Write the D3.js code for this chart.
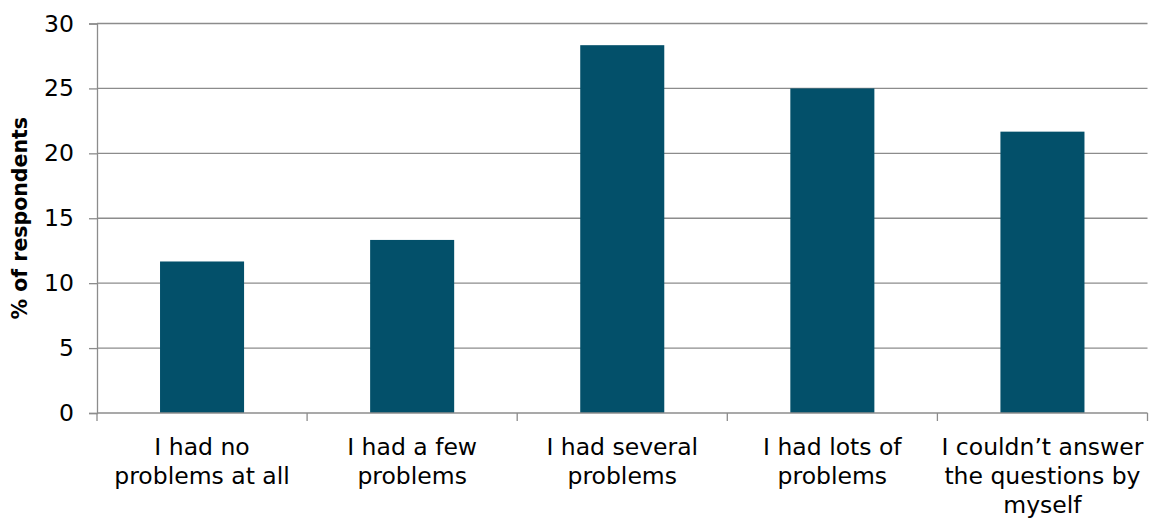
<!DOCTYPE html>
<html>
<head>
<meta charset="utf-8">
<script src="https://cdn.jsdelivr.net/npm/d3@7"></script>
<style>
  html, body { margin: 0; padding: 0; background: #fff; }
  svg { display: block; }
  text { font-family: "DejaVu Sans", sans-serif; fill: #000; }
</style>
</head>
<body>
<svg id="chart" width="1149" height="519"></svg>
<script>
// Survey answers: share of respondents per category (line breaks as printed)
const categories = [
  "I had no\nproblems at all",
  "I had a few\nproblems",
  "I had several\nproblems",
  "I had lots of\nproblems",
  "I couldn\u2019t answer\nthe questions by\nmyself"
];
const values = [11.67, 13.33, 28.33, 25, 21.67];
const yTicks = [0, 5, 10, 15, 20, 25, 30];
const yTitle = "% of respondents";

const W = 1149, H = 519;
const margin = { top: 23.5, right: 1.5, bottom: 106, left: 97 };
const svg = d3.select("#chart");

const x = d3.scaleBand()
  .domain(categories)
  .range([margin.left, W - margin.right])
  .paddingInner(0.6)
  .paddingOuter(0.3);

const y = d3.scaleLinear()
  .domain([0, 30])
  .range([H - margin.bottom, margin.top]);

const gridColor = "#8c8c8c";
const labelSize = 23.5;

// Value axis with short outside ticks
const yAxis = svg.append("g")
  .attr("transform", `translate(${margin.left},0)`)
  .call(d3.axisLeft(y).tickValues(yTicks).tickSize(8).tickPadding(15).tickFormat(d3.format("d")));
yAxis.select(".domain").attr("stroke", gridColor).attr("stroke-width", 1.3);
yAxis.selectAll(".tick line").attr("stroke", gridColor).attr("stroke-width", 1.3);
yAxis.selectAll(".tick text").attr("font-size", labelSize).attr("fill", "#000");

// Horizontal gridlines
svg.append("g")
  .selectAll("line")
  .data(yTicks.filter(d => d > 0))
  .join("line")
  .attr("x1", margin.left).attr("x2", W - margin.right)
  .attr("y1", d => y(d)).attr("y2", d => y(d))
  .attr("stroke", gridColor).attr("stroke-width", 1.3);

// Bars
svg.append("g")
  .selectAll("rect")
  .data(values)
  .join("rect")
  .attr("x", (d, i) => x(categories[i]))
  .attr("width", x.bandwidth())
  .attr("y", d => y(d))
  .attr("height", d => y(0) - y(d))
  .attr("fill", "#03506a");

// Category axis: baseline and ticks at band boundaries
const step = x.step();
const bandEdge = i => i < categories.length
  ? x(categories[i]) - step * x.paddingInner() / 2
  : x(categories[i - 1]) + x.bandwidth() + step * x.paddingInner() / 2;
const xAxisG = svg.append("g");
xAxisG.append("line")
  .attr("x1", margin.left).attr("x2", W - margin.right)
  .attr("y1", y(0)).attr("y2", y(0))
  .attr("stroke", gridColor).attr("stroke-width", 1.3);
xAxisG.selectAll("line.tk")
  .data(d3.range(categories.length + 1))
  .join("line")
  .attr("class", "tk")
  .attr("x1", bandEdge).attr("x2", bandEdge)
  .attr("y1", y(0)).attr("y2", y(0) + 8)
  .attr("stroke", gridColor).attr("stroke-width", 1.3);

// Category labels, centred under each bar
categories.forEach(c => {
  const cx = x(c) + x.bandwidth() / 2;
  const t = svg.append("text")
    .attr("x", cx)
    .attr("y", y(0) + 41.5)
    .attr("text-anchor", "middle")
    .attr("font-size", labelSize);
  c.split("\n").forEach((ln, k) => {
    t.append("tspan")
      .attr("x", cx)
      .attr("dy", k === 0 ? 0 : 29)
      .text(ln);
  });
});

// Value axis title
svg.append("text")
  .attr("transform", `translate(27,${(y(0) + y(30)) / 2}) rotate(-90)`)
  .attr("text-anchor", "middle")
  .attr("font-size", 20.5)
  .attr("font-weight", "bold")
  .text(yTitle);
</script>
</body>
</html>
